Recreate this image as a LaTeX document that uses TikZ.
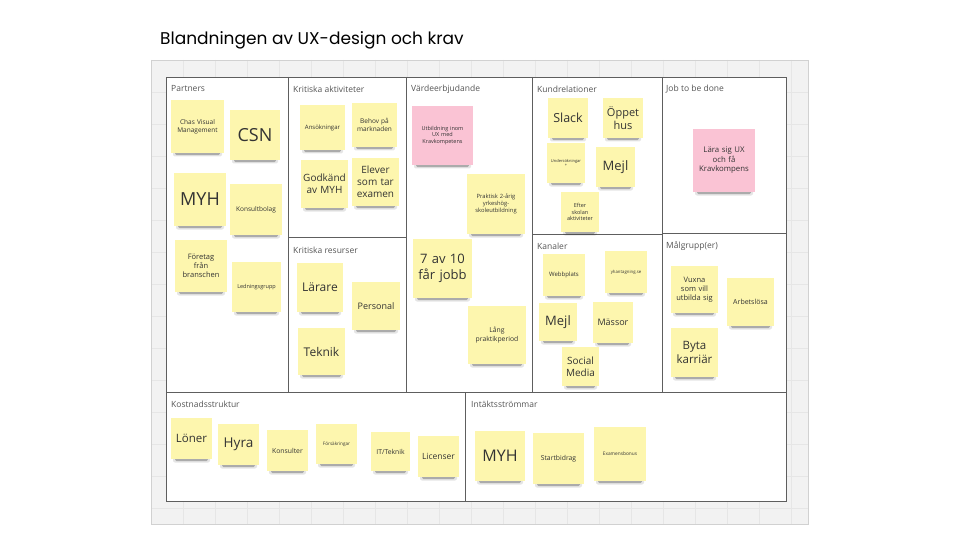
\documentclass[tikz,border=0pt]{standalone}
\usepackage{fontspec}
\setmainfont{Open Sans}
\newfontfamily\titlefont{Poppins}
\definecolor{stickyY}{HTML}{FDF6AE}
\definecolor{stickyP}{HTML}{FAC3D4}
\definecolor{framec}{HTML}{5E5E5E}
\definecolor{boardc}{HTML}{F2F2F2}
\definecolor{gridc}{HTML}{E6E6E6}
\definecolor{notetext}{HTML}{333333}
\definecolor{labeltext}{HTML}{555555}
\tikzset{
  stickybox/.style={inner sep=0pt, align=center, text=notetext},
  sectlabel/.style={anchor=west, inner sep=0pt, text=labeltext, font=\fontsize{8.5}{10}\selectfont},
  framepen/.style={draw=framec, line width=0.95pt},
}
% name, x1, y1, x2, y2, fontsize, colour, text
\newcommand\sticky[8]{%
  \fill[black, opacity=0.10, rounded corners=2pt] ({#2+2},{#5-2}) rectangle ({#4-2},{#5+3.5});
  \fill[black, opacity=0.25, rounded corners=1.5pt] ({#2+4},{#5-1}) rectangle ({#4-4},{#5+2.2});
  \node[stickybox, fill=#7, minimum width={(#4-#2)*1pt}, minimum height={(#5-#3)*1pt},
        text width={(#4-#2-4)*1pt}, font=\fontsize{#6}{\fpeval{#6*1.22}}\selectfont]
        (#1) at ({(#2+#4)/2},{(#3+#5)/2}) {#8};%
}
\begin{document}
\begin{tikzpicture}[x=1pt,y=-1pt]
\useasboundingbox (0,0) rectangle (960,540);
\fill[white] (0,0) rectangle (960,540);
% title
\node[anchor=west, inner sep=0pt, font=\titlefont\fontsize{17}{20}\selectfont, text=black] (title) at (160,40) {Blandningen av UX-design och krav};
% board
\fill[boardc] (151,60) rectangle (808,524);
\begin{scope}
\clip (151,60) rectangle (808,524);
\foreach \gx in {0,...,21} { \draw[gridc, line width=0.5pt] ({151+\gx*32},60) -- ({151+\gx*32},524); }
\foreach \gy in {0,...,15} { \draw[gridc, line width=0.5pt] (151,{60+\gy*32}) -- (808,{60+\gy*32}); }
\end{scope}
\draw[black!18, line width=0.6pt] (151,60) rectangle (808,524);
% canvas
\fill[white] (166,77) rectangle (786,501);
\draw[framepen] (166,77) rectangle (786,501);
\draw[framepen] (166,392) -- (786,392);
\draw[framepen] (288,77) -- (288,392);
\draw[framepen] (406,77) -- (406,392);
\draw[framepen] (532,77) -- (532,392);
\draw[framepen] (662,77) -- (662,392);
\draw[framepen] (288,237) -- (406,237);
\draw[framepen] (532,234) -- (662,234);
\draw[framepen] (662,233) -- (786,233);
\draw[framepen] (465,392) -- (465,501);
% section labels
\node[sectlabel] (lpart) at (171,89) {Partners};
\node[sectlabel] (lkakt) at (293,89) {Kritiska aktiviteter};
\node[sectlabel] (lkres) at (293,250) {Kritiska resurser};
\node[sectlabel] (lvard) at (411,89) {Värdeerbjudande};
\node[sectlabel] (lkund) at (537,89) {Kundrelationer};
\node[sectlabel] (lkan) at (537,246) {Kanaler};
\node[sectlabel] (ljob) at (666,89) {Job to be done};
\node[sectlabel] (lmal) at (666,246) {Målgrupp(er)};
\node[sectlabel] (lkost) at (171,404) {Kostnadsstruktur};
\node[sectlabel] (lint) at (471,404) {Intäktsströmmar};
% Partners
\sticky{p1}{171}{100}{224}{153}{6.5}{stickyY}{Chas Visual\\Management}
\sticky{p2}{230}{110}{280}{160}{18}{stickyY}{CSN}
\sticky{p3}{174}{173}{226}{226}{18}{stickyY}{MYH}
\sticky{p4}{230}{184}{282}{235}{6.5}{stickyY}{Konsultbolag}
\sticky{p5}{175}{240}{227}{292}{7.5}{stickyY}{Företag\\från\\branschen}
\sticky{p6}{232}{262}{281}{312}{5.5}{stickyY}{Ledningsgrupp}
% Kritiska aktiviteter
\sticky{a1}{300}{105}{345}{150}{6}{stickyY}{Ansökningar}
\sticky{a2}{352}{103}{397}{147}{6.5}{stickyY}{Behov på\\marknaden}
\sticky{a3}{301}{160}{348}{208}{10}{stickyY}{Godkänd\\av MYH}
\sticky{a4}{352}{158}{399}{206}{10}{stickyY}{Elever\\som tar\\examen}
% Kritiska resurser
\sticky{r1}{297}{263}{343}{312}{12}{stickyY}{Lärare}
\sticky{r2}{352}{282}{400}{330}{9}{stickyY}{Personal}
\sticky{r3}{298}{328}{345}{375}{12}{stickyY}{Teknik}
% Värdeerbjudande
\sticky{v1}{412}{106}{473}{165}{5.5}{stickyP}{Utbildning inom\\UX med\\Kravkompetens}
\sticky{v2}{467}{174}{525}{234}{5.8}{stickyY}{Praktisk 2-årig\\yrkeshög-\\skoleutbildning}
\sticky{v3}{413}{239}{472}{298}{13}{stickyY}{7 av 10\\får jobb}
\sticky{v4}{468}{306}{526}{364}{6.8}{stickyY}{Lång\\praktikperiod}
% Kundrelationer
\sticky{k1}{548}{98}{588}{138}{12.5}{stickyY}{Slack}
\sticky{k2}{603}{98}{643}{138}{11}{stickyY}{Öppet\\hus}
\sticky{k3}{547}{143}{585}{183}{4}{stickyY}{Undersökningar\\+}
\sticky{k4}{596}{147}{635}{187}{13}{stickyY}{Mejl}
\sticky{k5}{561}{192}{599}{232}{5.5}{stickyY}{Efter\\skolan\\aktiviteter}
% Kanaler
\sticky{c1}{543}{254}{585}{296}{6}{stickyY}{Webbplats}
\sticky{c2}{605}{251}{647}{293}{4.3}{stickyY}{yhantagning.se}
\sticky{c3}{539}{303}{577}{341}{13}{stickyY}{Mejl}
\sticky{c4}{593}{302}{633}{343}{9}{stickyY}{Mässor}
\sticky{c5}{562}{347}{599}{386}{10}{stickyY}{Social\\Media}
% Job to be done
\sticky{j1}{693}{129}{755}{192}{7.8}{stickyP}{Lära sig UX\\och få\\Kravkompens}
% Målgrupp
\sticky{m1}{671}{266}{718}{313}{7.5}{stickyY}{Vuxna\\som vill\\utbilda sig}
\sticky{m2}{727}{278}{774}{326}{7}{stickyY}{Arbetslösa}
\sticky{m3}{671}{328}{718}{377}{11.5}{stickyY}{Byta\\karriär}
% Kostnadsstruktur
\sticky{s1}{171}{418}{212}{459}{11.5}{stickyY}{Löner}
\sticky{s2}{218}{424}{259}{465}{13.5}{stickyY}{Hyra}
\sticky{s3}{267}{430}{308}{471}{6.8}{stickyY}{Konsulter}
\sticky{s4}{316}{424}{357}{464}{4.6}{stickyY}{Försäkringar}
\sticky{s5}{371}{432}{410}{471}{6.8}{stickyY}{IT/Teknik}
\sticky{s6}{418}{436}{459}{477}{8.5}{stickyY}{Licenser}
% Intäktsströmmar
\sticky{i1}{475}{431}{525}{481}{16}{stickyY}{MYH}
\sticky{i2}{533}{433}{584}{484}{6.8}{stickyY}{Startbidrag}
\sticky{i3}{594}{427}{646}{481}{4.8}{stickyY}{Examensbonus}
\end{tikzpicture}
\end{document}
